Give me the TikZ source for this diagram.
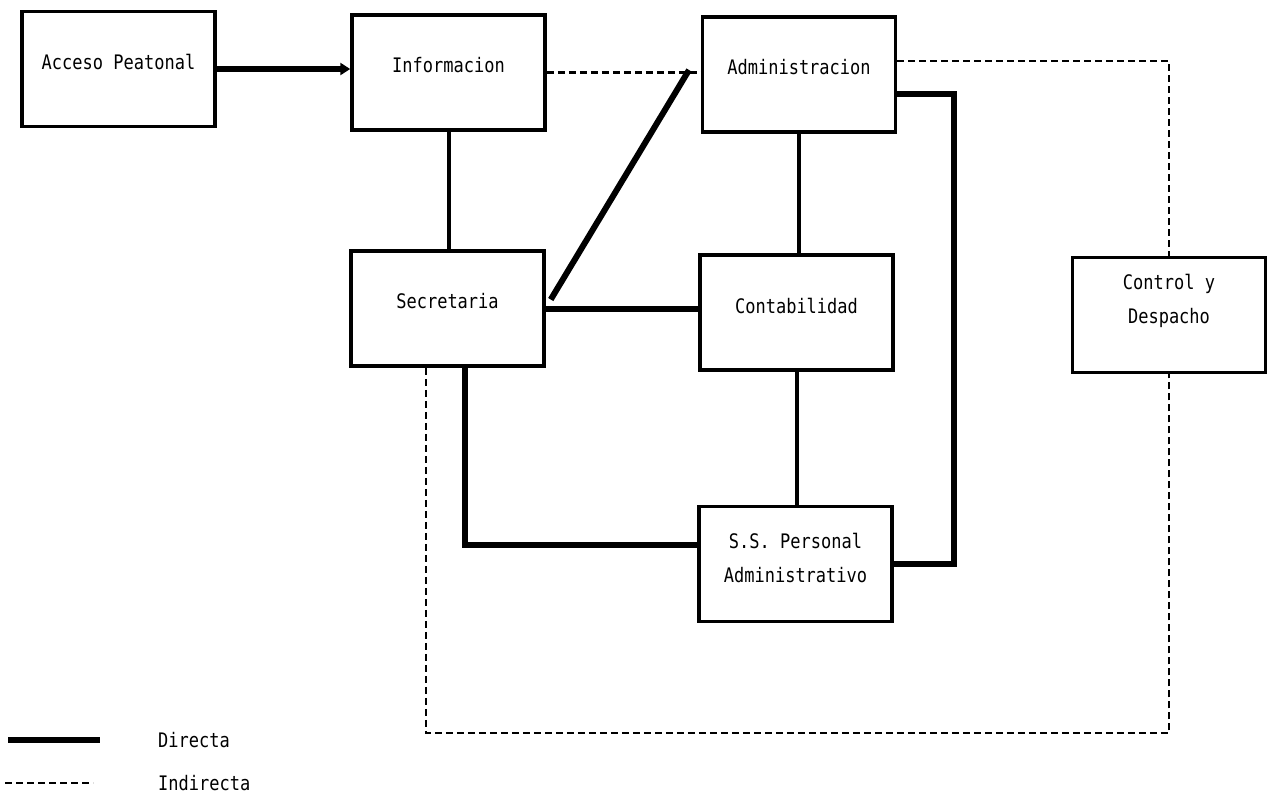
\documentclass[tikz,border=0pt]{standalone}
\usepackage{fontspec}
\usetikzlibrary{arrows.meta}
\newfontfamily\labfont[FakeStretch=0.85]{DejaVu Sans Mono}
\begin{document}
\begin{tikzpicture}[x=1pt,y=-1pt,
  box/.style={draw,line width=3.5pt,minimum width=193pt,minimum height=115pt,inner sep=0pt},
  txt/.style={font=\labfont\fontsize{20}{34}\selectfont,align=center,inner sep=0pt},
  direct/.style={line width=6pt},
  plain/.style={line width=4pt},
  indirect/.style={line width=2.2pt,dash pattern=on 7pt off 4pt}]
\useasboundingbox (0,0) rectangle (1274,796);

% boxes
\node[box] (acc)  at (118.5,69)  {};
\node[box] (info) at (448.5,72.5) {};
\node[box] (adm)  at (799,74.5)  {};
\node[box] (sec)  at (447.5,308.5) {};
\node[box] (cont) at (796.5,312.5) {};
\node[box] (ctrl) at (1169,315)  {};
\node[box] (ss)   at (795.5,564) {};

% box labels
\node[txt] (taccess) at ([shift={(0,-7)}]acc.center)  {Acceso Peatonal};
\node[txt] (tinfo)   at ([shift={(0,-7)}]info.center) {Informacion};
\node[txt] (tadm)    at ([shift={(0,-7)}]adm.center)  {Administracion};
\node[txt] (tsec)    at ([shift={(0,-7)}]sec.center)  {Secretaria};
\node[txt] (tcont)   at ([shift={(0,-7)}]cont.center) {Contabilidad};
\node[txt] (tctrl)   at ([shift={(0,-14)}]ctrl.center) {Control y\\Despacho};
\node[txt] (tss)     at ([shift={(0,-6)}]ss.center)   {S.S. Personal\\Administrativo};

% direct connections
\draw[direct,-{Triangle[length=10pt,width=12pt]}] (acc.east) -- (acc.east -| info.west);
\draw[plain] (info.south) -- (info.south |- sec.north);
\coordinate (diagtop) at (689,70);
\draw[direct] ([shift={(5,-9)}]sec.east) -- (diagtop);
\draw[direct] (sec.east) -- (sec.east -| cont.west);
\draw[plain] (adm.south) -- (adm.south |- cont.north);
\draw[plain] (cont.south) -- (cont.south |- ss.north);
\draw[direct] ([shift={(17,0)}]sec.south) |- ([shift={(0,-19)}]ss.west);
\draw[direct] ([shift={(0,19.5)}]adm.east) -- ++(57,0) |- (ss.east);

% indirect connections
\draw[indirect] (info.east) -- (info.east -| adm.west);
\draw[indirect] ([shift={(0,-13.5)}]adm.east) -| (ctrl.north);
\coordinate (bottom) at (0,733);
\draw[indirect] ([shift={(-21.5,0)}]sec.south) |- (bottom -| ctrl.south) -- (ctrl.south);

% legend
\coordinate (da) at (8,740);
\coordinate (db) at (100,740);
\draw[direct] (da) -- (db);
\node[txt,anchor=west] (ldir) at (158,740) {Directa};
\coordinate (ia) at (5,783);
\coordinate (ib) at (93,783);
\draw[indirect] (ia) -- (ib);
\node[txt,anchor=west] (lind) at (158,783) {Indirecta};
\end{tikzpicture}
\end{document}
